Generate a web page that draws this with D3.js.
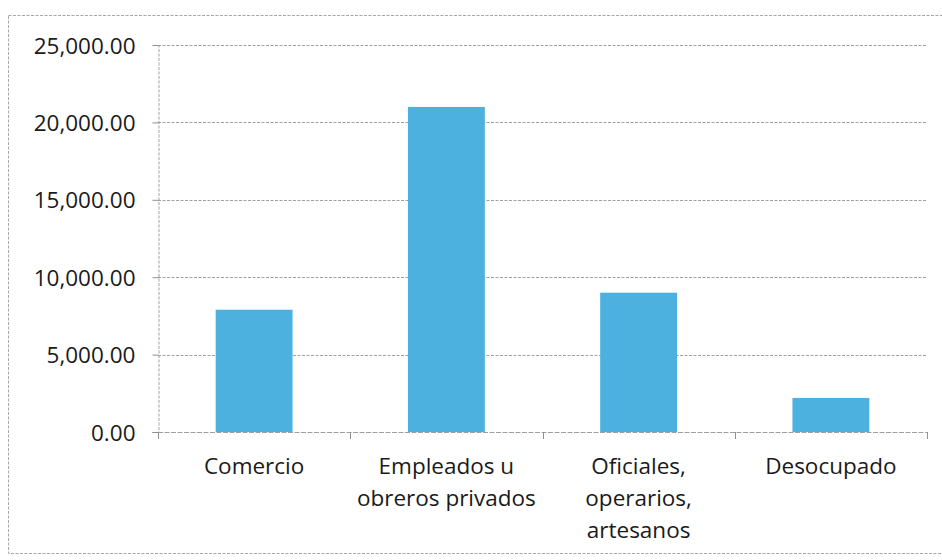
<!DOCTYPE html>
<html>
<head>
<meta charset="utf-8">
<script src="https://cdn.jsdelivr.net/npm/d3@7"></script>
<style>
  html, body { margin: 0; padding: 0; background: #fff; }
  svg { display: block; }
  text { font-family: "Open Sans", sans-serif; fill: #1a1a1a; }
</style>
</head>
<body>
<svg id="chart" width="942" height="560"></svg>
<script>
// Categories (each entry is the list of wrapped label lines)
const categories = [
  ["Comercio"],
  ["Empleados u", "obreros privados"],
  ["Oficiales,", "operarios,", "artesanos"],
  ["Desocupado"]
];
const values = [7900, 21000, 9000, 2200];
const yTicks = [0, 5000, 10000, 15000, 20000, 25000];

const svg = d3.select("#chart");
const plot = { left: 158, right: 927, top: 45, bottom: 432 };
const fontSize = "22.5px";

// Outer chart frame
svg.append("rect")
  .attr("x", 8.5).attr("y", 15.5)
  .attr("width", 960).attr("height", 538)
  .attr("fill", "none")
  .attr("stroke", "#a8a8a8")
  .attr("stroke-width", 1)
  .attr("stroke-dasharray", "3,1.5");

const keys = categories.map((d, i) => i);
const x = d3.scaleBand()
  .domain(keys)
  .range([plot.left, plot.right])
  .paddingInner(0.6)
  .paddingOuter(0.3);

const y = d3.scaleLinear()
  .domain([0, 25000])
  .range([plot.bottom, plot.top]);

// Horizontal gridlines
svg.append("g")
  .selectAll("line")
  .data(yTicks.filter(t => t > 0))
  .join("line")
  .attr("x1", plot.left).attr("x2", plot.right)
  .attr("y1", d => Math.round(y(d)) + 0.5)
  .attr("y2", d => Math.round(y(d)) + 0.5)
  .attr("stroke", "#a0a0a0")
  .attr("stroke-width", 1)
  .attr("stroke-dasharray", "3,1.5");

// Y axis
const yAxis = d3.axisLeft(y)
  .tickValues(yTicks)
  .tickSize(6)
  .tickPadding(17)
  .tickFormat(d3.format(",.2f"));
const gy = svg.append("g")
  .attr("transform", `translate(${plot.left + 0.5},0)`)
  .call(yAxis);
gy.select(".domain").attr("stroke", "#a0a0a0").attr("stroke-dasharray", "3,1.5");
gy.selectAll(".tick line").attr("stroke", "#909090");
gy.selectAll(".tick text")
  .style("font-family", "'Open Sans', sans-serif")
  .style("font-size", fontSize)
  .attr("fill", "#1a1a1a")
  .attr("dy", "0.36em");

// Bars
svg.append("g")
  .selectAll("rect")
  .data(values)
  .join("rect")
  .attr("x", (d, i) => x(i))
  .attr("width", x.bandwidth())
  .attr("y", d => y(d))
  .attr("height", d => y(0) - y(d))
  .attr("fill", "#4db1df");

// X axis baseline and category boundary ticks
const gx = svg.append("g");
gx.append("line")
  .attr("x1", plot.left).attr("x2", plot.right)
  .attr("y1", plot.bottom + 0.5).attr("y2", plot.bottom + 0.5)
  .attr("stroke", "#a0a0a0")
  .attr("stroke-dasharray", "5,1.5");
const step = x.step();
const bounds = d3.range(keys.length + 1).map(i => plot.left + i * step);
gx.selectAll("line.tk")
  .data(bounds)
  .join("line")
  .attr("class", "tk")
  .attr("x1", d => Math.round(d) + 0.5).attr("x2", d => Math.round(d) + 0.5)
  .attr("y1", plot.bottom).attr("y2", plot.bottom + 7)
  .attr("stroke", "#909090");

// Category labels
const labels = gx.selectAll("text.cat")
  .data(categories)
  .join("text")
  .attr("class", "cat")
  .attr("text-anchor", "middle")
  .attr("x", (d, i) => x(i) + x.bandwidth() / 2)
  .attr("y", 474)
  .style("font-size", fontSize);
labels.selectAll("tspan")
  .data(d => d)
  .join("tspan")
  .attr("x", function () { return d3.select(this.parentNode).attr("x"); })
  .attr("dy", (d, i) => i === 0 ? 0 : 32)
  .text(d => d);
</script>
</body>
</html>
